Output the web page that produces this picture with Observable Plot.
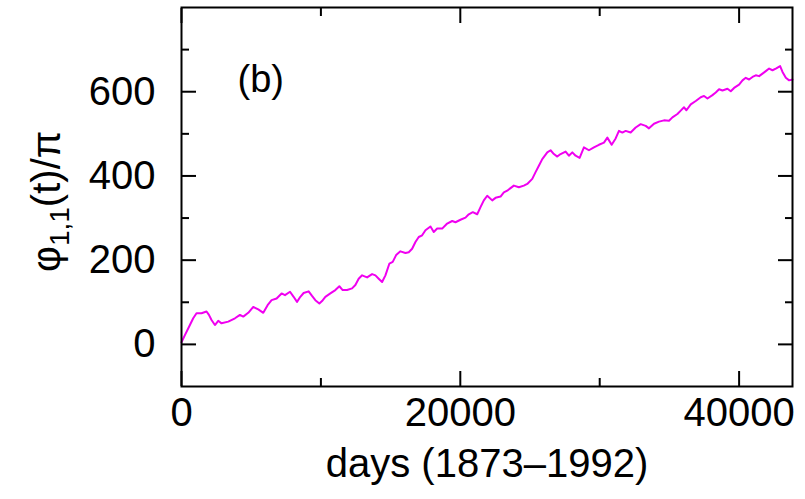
<!DOCTYPE html>
<html><head><meta charset="utf-8">
<script src="https://cdn.jsdelivr.net/npm/d3@7"></script>
<script src="https://cdn.jsdelivr.net/npm/@observablehq/plot@0.6"></script>
<style>body{margin:0;background:#fff} svg{display:block}</style>
</head><body><div id="chart"></div>
<script>
const days = [0, 244, 603, 840, 1077, 1436, 1795, 1968, 2154, 2398, 2635, 2872, 3354, 3835, 4194, 4431, 4790, 5149, 5508, 5867, 6176, 6463, 6822, 7181, 7425, 7784, 8043, 8287, 8524, 8761, 9120, 9364, 9601, 9888, 10082, 10319, 10678, 11037, 11324, 11561, 11877, 12236, 12473, 12710, 12955, 13314, 13673, 13910, 14147, 14391, 14628, 14915, 15152, 15396, 15705, 16064, 16301, 16545, 16782, 17019, 17263, 17500, 17859, 18096, 18340, 18699, 19058, 19417, 19654, 20013, 20372, 20609, 20897, 21213, 21450, 21687, 21931, 22290, 22527, 22886, 23123, 23367, 23604, 23841, 24200, 24559, 24803, 25162, 25399, 25636, 25880, 26239, 26476, 26713, 26957, 27194, 27553, 27790, 28034, 28271, 28559, 28868, 29227, 29586, 29945, 30304, 30548, 30857, 31144, 31381, 31625, 31862, 32221, 32580, 32939, 33298, 33535, 33895, 34254, 34613, 34972, 35216, 35575, 35812, 36049, 36221, 36530, 36889, 37248, 37485, 37729, 38088, 38325, 38562, 38806, 39165, 39402, 39639, 39998, 40242, 40479, 40716, 40960, 41197, 41434, 41678, 41915, 42152, 42396, 42633, 42942, 43114, 43351, 43588, 43830];
const phi = [5, 22, 46, 62, 74, 74, 78, 70, 58, 46, 56, 50, 54, 62, 70, 66, 75, 89, 83, 75, 93, 105, 109, 121, 117, 125, 113, 101, 113, 122, 126, 115, 105, 97, 103, 113, 121, 129, 138, 129, 129, 133, 141, 156, 164, 159, 167, 164, 156, 148, 164, 192, 196, 212, 221, 217, 219, 227, 243, 255, 259, 271, 280, 267, 275, 275, 287, 293, 290, 296, 301, 309, 314, 309, 326, 342, 353, 342, 348, 351, 361, 365, 371, 377, 373, 377, 381, 393, 409, 424, 440, 456, 461, 452, 446, 452, 458, 448, 456, 448, 443, 468, 461, 468, 474, 479, 491, 474, 489, 507, 503, 507, 503, 515, 523, 519, 513, 524, 529, 532, 531, 539, 547, 555, 563, 556, 570, 578, 587, 590, 584, 592, 598, 606, 603, 607, 601, 609, 617, 627, 633, 629, 635, 639, 637, 643, 649, 655, 651, 655, 661, 647, 633, 627, 629];
const xMajor = [0, 20000, 40000];
const xMinor = [10000, 30000];
const yMajor = [0, 200, 400, 600];
const yMinor = [100, 300, 500, 700];
const panelLabel = "(b)";
const xLabel = "days (1873\u20131992)";

const data = days.map((d, i) => ({d, v: phi[i]}));
const font = "'Liberation Sans', Arial, Helvetica, sans-serif";
const fs = 40;
const blank = () => "";

const plot = Plot.plot({
  width: 805, height: 499,
  marginLeft: 181, marginRight: 13, marginTop: 7, marginBottom: 113,
  style: {fontFamily: font, background: "#fff", color: "#000"},
  x: {domain: [0, 43830], label: null},
  y: {domain: [-100, 800], label: null},
  marks: [
    Plot.line(data, {x: "d", y: "v", stroke: "#f000f0", strokeWidth: 2}),
    Plot.axisX(xMajor, {anchor: "bottom", tickSize: -15, strokeWidth: 2, tickFormat: blank, label: null}),
    Plot.axisX(xMinor, {anchor: "bottom", tickSize: -8, strokeWidth: 2, tickFormat: blank, label: null}),
    Plot.axisX(xMajor, {anchor: "top", tickSize: -15, strokeWidth: 2, tickFormat: blank, label: null}),
    Plot.axisX(xMinor, {anchor: "top", tickSize: -8, strokeWidth: 2, tickFormat: blank, label: null}),
    Plot.axisY(yMajor, {anchor: "left", tickSize: -15, strokeWidth: 2, tickFormat: blank, label: null}),
    Plot.axisY(yMinor, {anchor: "left", tickSize: -8, strokeWidth: 2, tickFormat: blank, label: null}),
    Plot.axisY(yMajor, {anchor: "right", tickSize: -15, strokeWidth: 2, tickFormat: blank, label: null}),
    Plot.axisY(yMinor, {anchor: "right", tickSize: -8, strokeWidth: 2, tickFormat: blank, label: null}),
    Plot.axisX(xMajor, {anchor: "bottom", tickSize: 0, tickPadding: 11, fontSize: fs, label: null, tickFormat: d => String(d)}),
    Plot.axisY(yMajor, {anchor: "left", tickSize: 0, tickPadding: 26, fontSize: fs, label: null, tickFormat: d => String(d)}),
    Plot.frame({stroke: "#000", strokeWidth: 2}),
    Plot.text([panelLabel], {text: d => d, frameAnchor: "top-left", textAnchor: "start", lineAnchor: "middle", dx: 56, dy: 72, fontSize: 38}),
    Plot.text([xLabel], {text: d => d, frameAnchor: "bottom", textAnchor: "middle", lineAnchor: "top", dy: 62, fontSize: fs})
  ]
});
document.getElementById("chart").appendChild(plot);

const svg = d3.select(plot);
const t = svg.append("text")
  .attr("transform", "translate(60,272) rotate(-90)")
  .attr("text-anchor", "start")
  .attr("font-family", font)
  .attr("font-size", fs)
  .attr("fill", "#000");
t.append("tspan").text("\u03c6");
t.append("tspan").attr("font-size", 28).attr("dy", 9).text("1,1");
t.append("tspan").attr("dy", -9).text("(t)/\u03c0");
</script>
</body></html>
